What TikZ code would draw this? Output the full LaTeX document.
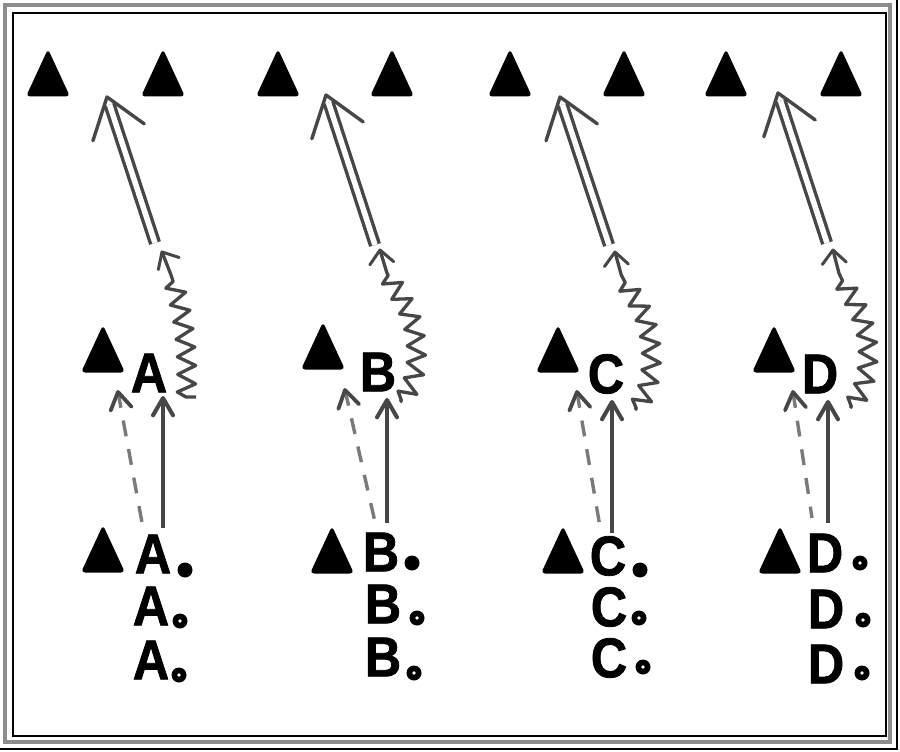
\documentclass[tikz,border=0pt]{standalone}
\usepackage{fontspec}
\setmainfont{Liberation Sans}
\newfontfamily\lblfont[FakeBold=1.4]{Liberation Sans Bold}
\usetikzlibrary{calc,decorations.pathmorphing}
\definecolor{linegray}{gray}{0.28}
\definecolor{dashgray}{gray}{0.48}
\definecolor{framegray}{gray}{0.55}
\begin{document}
\begin{tikzpicture}[x=1pt,y=-1pt,
  cone/.pic={\fill[black, rounded corners=4pt] (-22,22.5) -- (0,-25) -- (22,22.5) -- cycle;},
  lbl/.style={font=\lblfont\fontsize{56}{56}\selectfont, inner sep=0pt, xscale=0.9},
  ballfull/.style={circle, fill=black, minimum size=15pt, inner sep=0pt},
  ballring/.style={circle, fill=black, minimum size=15pt, inner sep=0pt,
    path picture={\fill[white] (path picture bounding box.center) circle (1.8pt);}},
  runline/.style={draw=linegray, line width=3.4pt, double=white, double distance=5.5pt, shorten >=8pt},
  dribble/.style={draw=linegray, line width=3.3pt, line join=round, decorate,
    decoration={zigzag, segment length=18pt, amplitude=9pt, pre length=2pt, post length=24pt}},
  passline/.style={draw=linegray, line width=4pt},
  dashline/.style={draw=dashgray, line width=3.4pt, dash pattern=on 16pt off 13pt},
  barb/.style={draw=linegray, line width=3.4pt, line cap=round, line join=round},
  framelines/.style={draw=framegray, line width=4.5pt},
  innerframe/.style={draw=black, line width=1.4pt}
]
\useasboundingbox (0,0) rectangle (900,752);
\fill[white] (0,0) rectangle (900,752);
% frame
\draw[framelines] (5,5) rectangle (890,742);
\draw[innerframe] (13,13) rectangle (886,736);
\draw[black, line width=1.2pt] (897,0) -- (897,749) -- (0,749);

% cones
\foreach \x in {48,163,278,392,510,624,726,841} \pic at (\x,74) {cone};
\pic at (103,350) {cone};
\pic at (323,347) {cone};
\pic at (558,350) {cone};
\pic at (774,350) {cone};
\pic at (103,550) {cone};
\pic at (332,551) {cone};
\pic at (563,551) {cone};
\pic at (780,551) {cone};

% upper players
\node[lbl] (A0) at (149,373) {A};
\node[lbl] (B0) at (378,372) {B};
\node[lbl] (C0) at (606,374) {C};
\node[lbl] (D0) at (820,374) {D};

% lower players
\node[lbl] (A1) at (153,554) {A};
\node[lbl] (A2) at (151,606) {A};
\node[lbl] (A3) at (151,660) {A};
\node[lbl] (B1) at (381,552) {B};
\node[lbl] (B2) at (383,604) {B};
\node[lbl] (B3) at (383,657) {B};
\node[lbl] (C1) at (608,556) {C};
\node[lbl] (C2) at (609,607) {C};
\node[lbl] (C3) at (609,658) {C};
\node[lbl] (D1) at (825,553) {D};
\node[lbl] (D2) at (826,609) {D};
\node[lbl] (D3) at (826,664) {D};

% balls
\node[ballfull] (a1) at (185,570) {};
\node[ballring] (a2) at (180,621) {};
\node[ballring] (a3) at (179,675) {};
\node[ballfull] (b1) at (412,563) {};
\node[ballring] (b2) at (417,618) {};
\node[ballring] (b3) at (414,673) {};
\node[ballfull] (c1) at (640,570) {};
\node[ballring] (c2) at (639,618) {};
\node[ballring] (c3) at (643,667) {};
\node[ballring] (d1) at (860,563) {};
\node[ballring] (d2) at (863,620) {};
\node[ballring] (d3) at (862,673) {};

% coordinates: runs
\coordinate (r1s) at (155,243); \coordinate (r1t) at (107,97);
\coordinate (r2s) at (375,245); \coordinate (r2t) at (326,95);
\coordinate (r3s) at (609,245); \coordinate (r3t) at (560,97);
\coordinate (r4s) at (827,243); \coordinate (r4t) at (778,93);
% dribbles
\coordinate (q1s) at (196,397); \coordinate (q1t) at (162,252); \coordinate (q1b) at (176,276);
\coordinate (q2s) at (400,402); \coordinate (q2t) at (380,250); \coordinate (q2b) at (384,280);
\coordinate (q3s) at (635,410); \coordinate (q3t) at (615,252); \coordinate (q3b) at (618,280);
\coordinate (q4s) at (850,408); \coordinate (q4t) at (833,250); \coordinate (q4b) at (836,280);
% solid passes
\coordinate (p1s) at (163,528); \coordinate (p1t) at (163,398);
\coordinate (p2s) at (387,523); \coordinate (p2t) at (387,400);
\coordinate (p3s) at (612,533); \coordinate (p3t) at (612,402);
\coordinate (p4s) at (828,523); \coordinate (p4t) at (828,402);
% dashed
\coordinate (e1s) at (143,528); \coordinate (e1t) at (118,392);
\coordinate (e2s) at (375,522); \coordinate (e2t) at (345,390);
\coordinate (e3s) at (600,527); \coordinate (e3t) at (577,392);
\coordinate (e4s) at (812,518); \coordinate (e4t) at (793,392);

% run arrows (double line)
\foreach \i in {1,2,3,4}{
  \draw[runline] (r\i s) -- (r\i t);
  \draw[barb] ($(r\i t)!46pt!36:(r\i s)$) -- (r\i t) -- ($(r\i t)!46pt!-36:(r\i s)$);
}

% dribbles
\draw[dribble, decoration={pre length=10pt}] (q1s) -- (186,397) .. controls (189,345) and (183,300) .. (q1t);
\draw[dribble] (q2s) .. controls (418,385) and (420,350) .. (412,322) .. controls (404,294) and (384,280) .. (q2t);
\draw[dribble] (q3s) .. controls (652,392) and (656,355) .. (646,322) .. controls (636,292) and (618,282) .. (q3t);
\draw[dribble] (q4s) .. controls (868,390) and (873,352) .. (863,322) .. controls (853,292) and (836,280) .. (q4t);
\foreach \i in {1,2,3,4}{
  \draw[barb, line width=3pt] ($(q\i t)!18pt!42:(q\i b)$) -- (q\i t) -- ($(q\i t)!18pt!-42:(q\i b)$);
}

% solid passes
\foreach \i in {1,2,3,4}{
  \draw[passline] (p\i s) -- (p\i t);
  \draw[barb, line width=4pt] ($(p\i t)!20pt!30:(p\i s)$) -- (p\i t) -- ($(p\i t)!20pt!-30:(p\i s)$);
}

% dashed runs
\foreach \i in {1,2,3,4}{
  \draw[dashline] (e\i t) -- (e\i s);
  \draw[barb, line width=3.8pt] ($(e\i t)!20pt!32:(e\i s)$) -- (e\i t) -- ($(e\i t)!20pt!-32:(e\i s)$);
}
\end{tikzpicture}
\end{document}
